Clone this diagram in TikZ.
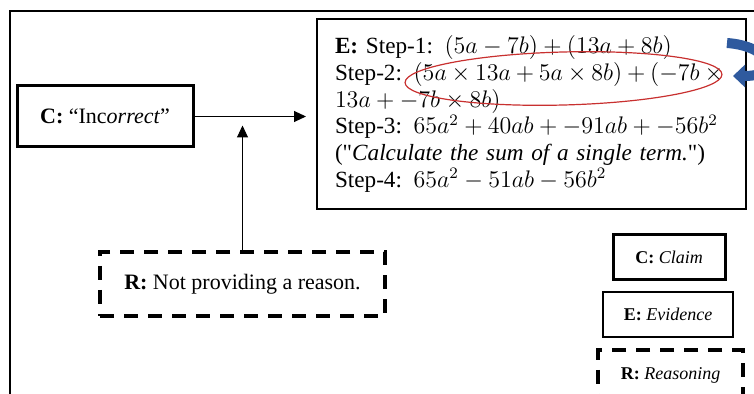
\documentclass[tikz,border=0pt]{standalone}
\usepackage{fontspec}
\setmainfont{Liberation Serif}
\usetikzlibrary{arrows.meta}
\definecolor{ovalred}{HTML}{C8302F}
\definecolor{curveblue}{HTML}{2F5A9E}
\newcommand\mainfs{\fontsize{11}{13.3}\selectfont}
\newcommand\evidfs{\fontsize{11.6}{13.4}\selectfont}
\newcommand\keyfs{\fontsize{9}{11}\selectfont}

\begin{document}
\begin{tikzpicture}[x=0.5pt,y=-0.5pt,
		claimbox/.style={draw,line width=1.5pt,inner sep=0pt},
		evidbox/.style={draw,line width=1pt,inner sep=0pt},
		reasonbox/.style={draw,line width=1.6pt,dash pattern=on 7pt off 5pt,inner sep=0pt},
		link/.style={-{Triangle[length=6pt,width=5.5pt]},line width=0.5pt}]
	\useasboundingbox (0,0) rectangle (754,394);
	\clip (0,0) rectangle (754,394);
	\draw[line width=0.6pt] (10,394) -- (10,11) -- (754,11);

	\node[claimbox,minimum width=88pt,minimum height=30.5pt,font=\mainfs] (claim) at (105,116.5) {\textbf{C:} “Inc\textit{orrect}”};
	\node[evidbox,minimum width=214.5pt,minimum height=95pt,text width=196.5pt,align=left,font=\evidfs] (evid) at (531.5,114) {%
		\textbf{E:} Step-1: $(5a-7b)+(13a+8b)$\\
		Step-2: $(5a\times 13a+5a\times 8b)+(-7b\times{}$\\
		$13a+-7b\times 8b)$\\
		Step-3: $65a^2+40ab+-91ab+-56b^2$\\
		(\textquotedbl\textit{Calculate the sum of a single term.}\textquotedbl)\\
		Step-4: $65a^2-51ab-56b^2$};
	\node[reasonbox,minimum width=142.5pt,minimum height=32pt,font=\mainfs] (reason) at (242.5,284) {\textbf{R:} Not providing a reason.};

	\draw[link,shorten >=5pt] (claim.east) -- (claim.east -| evid.west);
	\draw[link,shorten >=4.5pt] (reason.north) -- (reason.north |- claim.east);

	\draw[ovalred,line width=0.6pt,rotate around={1.5:(563.5,78.5)}] (563.5,78.5) ellipse [x radius=79.25pt,y radius=13.25pt];
	\draw[curveblue,line width=5pt,-{Triangle[length=6pt,width=11pt]}] (727,43) .. controls (770,46) and (784,76) .. (733,76);

	\node[claimbox,minimum width=56pt,minimum height=22.5pt,font=\keyfs] (keyc) at (669,257.5) {\textbf{C:} \textit{Claim}};
	\node[evidbox,line width=0.8pt,minimum width=65pt,minimum height=22.5pt,font=\keyfs] (keye) at (668,314.5) {\textbf{E:} \textit{Evidence}};
	\node[reasonbox,minimum width=72.5pt,minimum height=25pt,font=\keyfs] (keyr) at (670.5,375) {\textbf{R:} \textit{Reasoning}};
\end{tikzpicture}
\end{document}
